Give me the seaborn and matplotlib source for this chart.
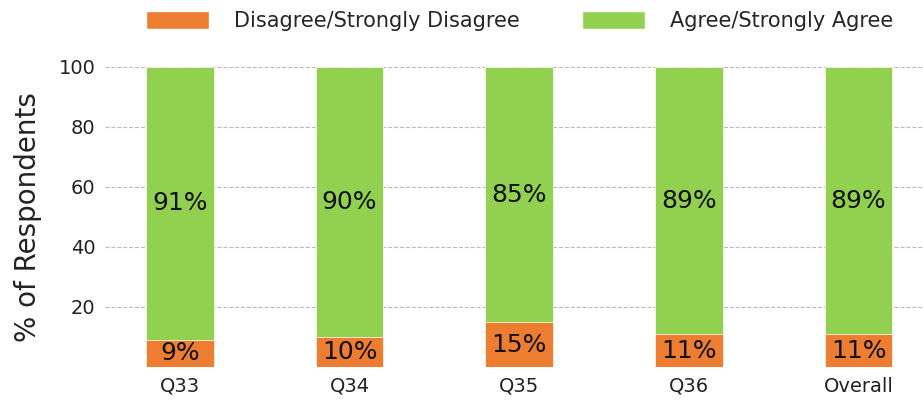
import matplotlib
matplotlib.use("Agg")
import matplotlib.pyplot as plt
import seaborn as sns
import pandas as pd
from matplotlib.patches import Patch

# data
questions = ["Q33", "Q34", "Q35", "Q36", "Overall"]
disagree = [9, 10, 15, 11, 11]
agree = [91, 90, 85, 89, 89]
legend_labels = ["Disagree/Strongly Disagree", "Agree/Strongly Agree"]

orange = "#ED7D31"
green = "#92D050"

sns.set_style("white")
plt.rcParams['font.family'] = ['DejaVu Sans']

df = pd.DataFrame({"q": questions, "disagree": disagree, "agree": agree})
df["total"] = df["disagree"] + df["agree"]

fig = plt.figure(figsize=(9.23, 4.0), dpi=100)
ax = fig.add_axes([0.114, 0.0825, 0.886, 0.75])

# green full stack first, orange on top of it at the bottom
sns.barplot(data=df, x="q", y="total", color=green, width=0.4, ax=ax,
            saturation=1, edgecolor="white", linewidth=0.5, zorder=3)
sns.barplot(data=df, x="q", y="disagree", color=orange, width=0.4, ax=ax,
            saturation=1, edgecolor="white", linewidth=0.5, zorder=3)

for i, (d, a) in enumerate(zip(disagree, agree)):
    ax.text(i, d / 2, f"{d}%", ha="center", va="center", fontsize=18, color="#111111", zorder=4)
    ax.text(i, d + a / 2, f"{a}%", ha="center", va="center", fontsize=18, color="#111111", zorder=4)

ax.set_xlim(-0.44, 4.38)
ax.set_ylim(0, 100)
ax.set_yticks([20, 40, 60, 80, 100])
ax.yaxis.grid(True, linestyle="--", color="#bbbbbb", linewidth=0.8, zorder=0)
ax.set_axisbelow(True)
for s in ax.spines.values():
    s.set_visible(False)
ax.tick_params(axis="both", length=0, labelsize=14, colors="#222222", pad=7)
ax.set_xlabel("")
ax.set_ylabel("% of Respondents", fontsize=20, color="#222222", labelpad=12)

handles = [Patch(facecolor=orange, edgecolor="white"), Patch(facecolor=green, edgecolor="white")]
fig.legend(handles, legend_labels, loc="center", bbox_to_anchor=(0.563, 0.947), ncol=2,
           frameon=False, fontsize=15, handlelength=3.0, handleheight=0.9,
           columnspacing=3.0, handletextpad=1.2)

fig.savefig("out.png", dpi=100)
